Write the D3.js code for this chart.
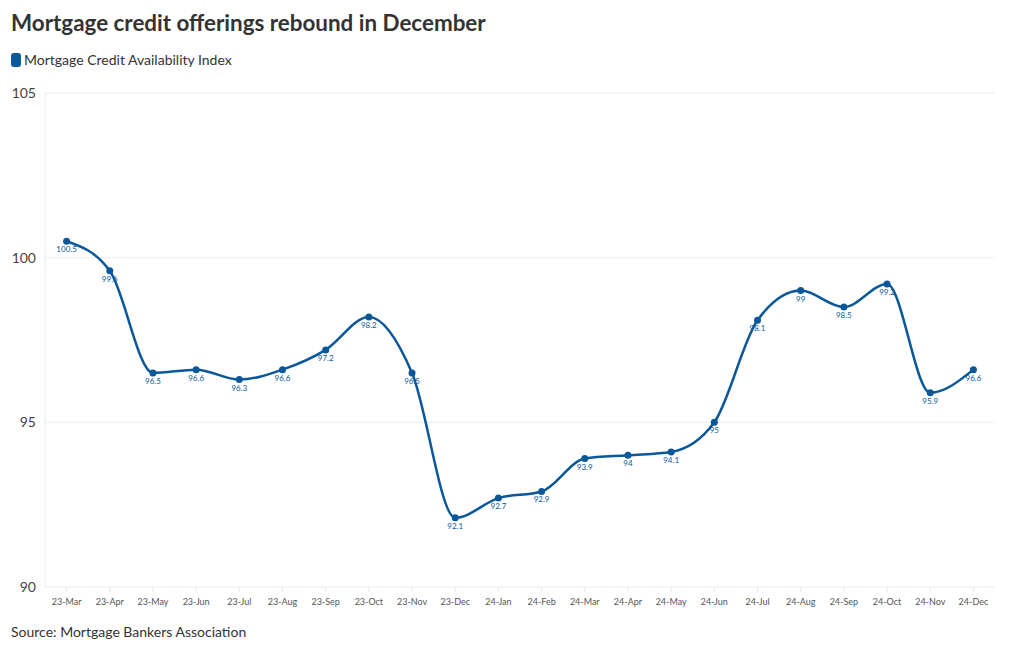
<!DOCTYPE html>
<html><head><meta charset="utf-8">
<script src="https://cdn.jsdelivr.net/npm/d3@7"></script>
<style>body{margin:0;background:#fff;font-family:Lato,"Open Sans",sans-serif}</style>
</head><body><svg id="c" width="1020" height="650"></svg>
<script>
const categories=["23-Mar","23-Apr","23-May","23-Jun","23-Jul","23-Aug","23-Sep","23-Oct","23-Nov","23-Dec","24-Jan","24-Feb","24-Mar","24-Apr","24-May","24-Jun","24-Jul","24-Aug","24-Sep","24-Oct","24-Nov","24-Dec"];
const values=[100.5,99.6,96.5,96.6,96.3,96.6,97.2,98.2,96.5,92.1,92.7,92.9,93.9,94,94.1,95,98.1,99,98.5,99.2,95.9,96.6];
const yTicks=[90,95,100,105];
const seriesName="Mortgage Credit Availability Index";
const color="#0a5899";
const svg=d3.select("#c");
const L=45,R=995,T=93,B=587;
const x=d3.scaleBand().domain(categories).range([L,R]);
const y=d3.scaleLinear().domain([90,105]).range([B,T]);
svg.append("text").attr("x",11).attr("y",31).attr("font-size",22.4).attr("font-weight",700).attr("fill","#333").text("Mortgage credit offerings rebound in December");
svg.append("rect").attr("x",11).attr("y",53).attr("width",10).attr("height",14).attr("rx",3).attr("fill",color);
svg.append("text").attr("x",24).attr("y",65).attr("font-size",14).attr("fill","#333").text(seriesName);
// grid
svg.append("g").selectAll("line").data(yTicks).join("line").attr("x1",L).attr("x2",R).attr("y1",d=>y(d)).attr("y2",d=>y(d)).attr("stroke","#ececec");
svg.append("line").attr("x1",L).attr("x2",L).attr("y1",T).attr("y2",B).attr("stroke","#ececec");
svg.append("g").selectAll("text").data(yTicks).join("text").attr("x",36).attr("y",d=>y(d)+5).attr("text-anchor","end").attr("font-size",14).attr("fill","#444").text(d=>d);
// x ticks
const xt=svg.append("g");
xt.selectAll("line").data(categories).join("line").attr("x1",d=>x(d)+x.bandwidth()/2).attr("x2",d=>x(d)+x.bandwidth()/2).attr("y1",B).attr("y2",B+5).attr("stroke","#e6e6e6");
xt.selectAll("text").data(categories).join("text").attr("x",d=>x(d)+x.bandwidth()/2).attr("y",B+18).attr("text-anchor","middle").attr("font-size",9).attr("fill","#555").text(d=>d);
const pts=categories.map((c,i)=>({c,v:values[i]}));
const line=d3.line().x(d=>x(d.c)+x.bandwidth()/2).y(d=>y(d.v)).curve(d3.curveMonotoneX);
svg.append("path").datum(pts).attr("d",line).attr("fill","none").attr("stroke",color).attr("stroke-width",2.5);
svg.append("g").selectAll("circle").data(pts).join("circle").attr("cx",d=>x(d.c)+x.bandwidth()/2).attr("cy",d=>y(d.v)).attr("r",3.5).attr("fill",color);
svg.append("g").selectAll("text").data(pts).join("text").attr("x",d=>x(d.c)+x.bandwidth()/2).attr("y",d=>y(d.v)+11).attr("text-anchor","middle").attr("font-size",8).attr("fill",color).text(d=>d.v);
svg.append("text").attr("x",11).attr("y",637).attr("font-size",14).attr("fill","#333").text("Source: Mortgage Bankers Association");
</script></body></html>
